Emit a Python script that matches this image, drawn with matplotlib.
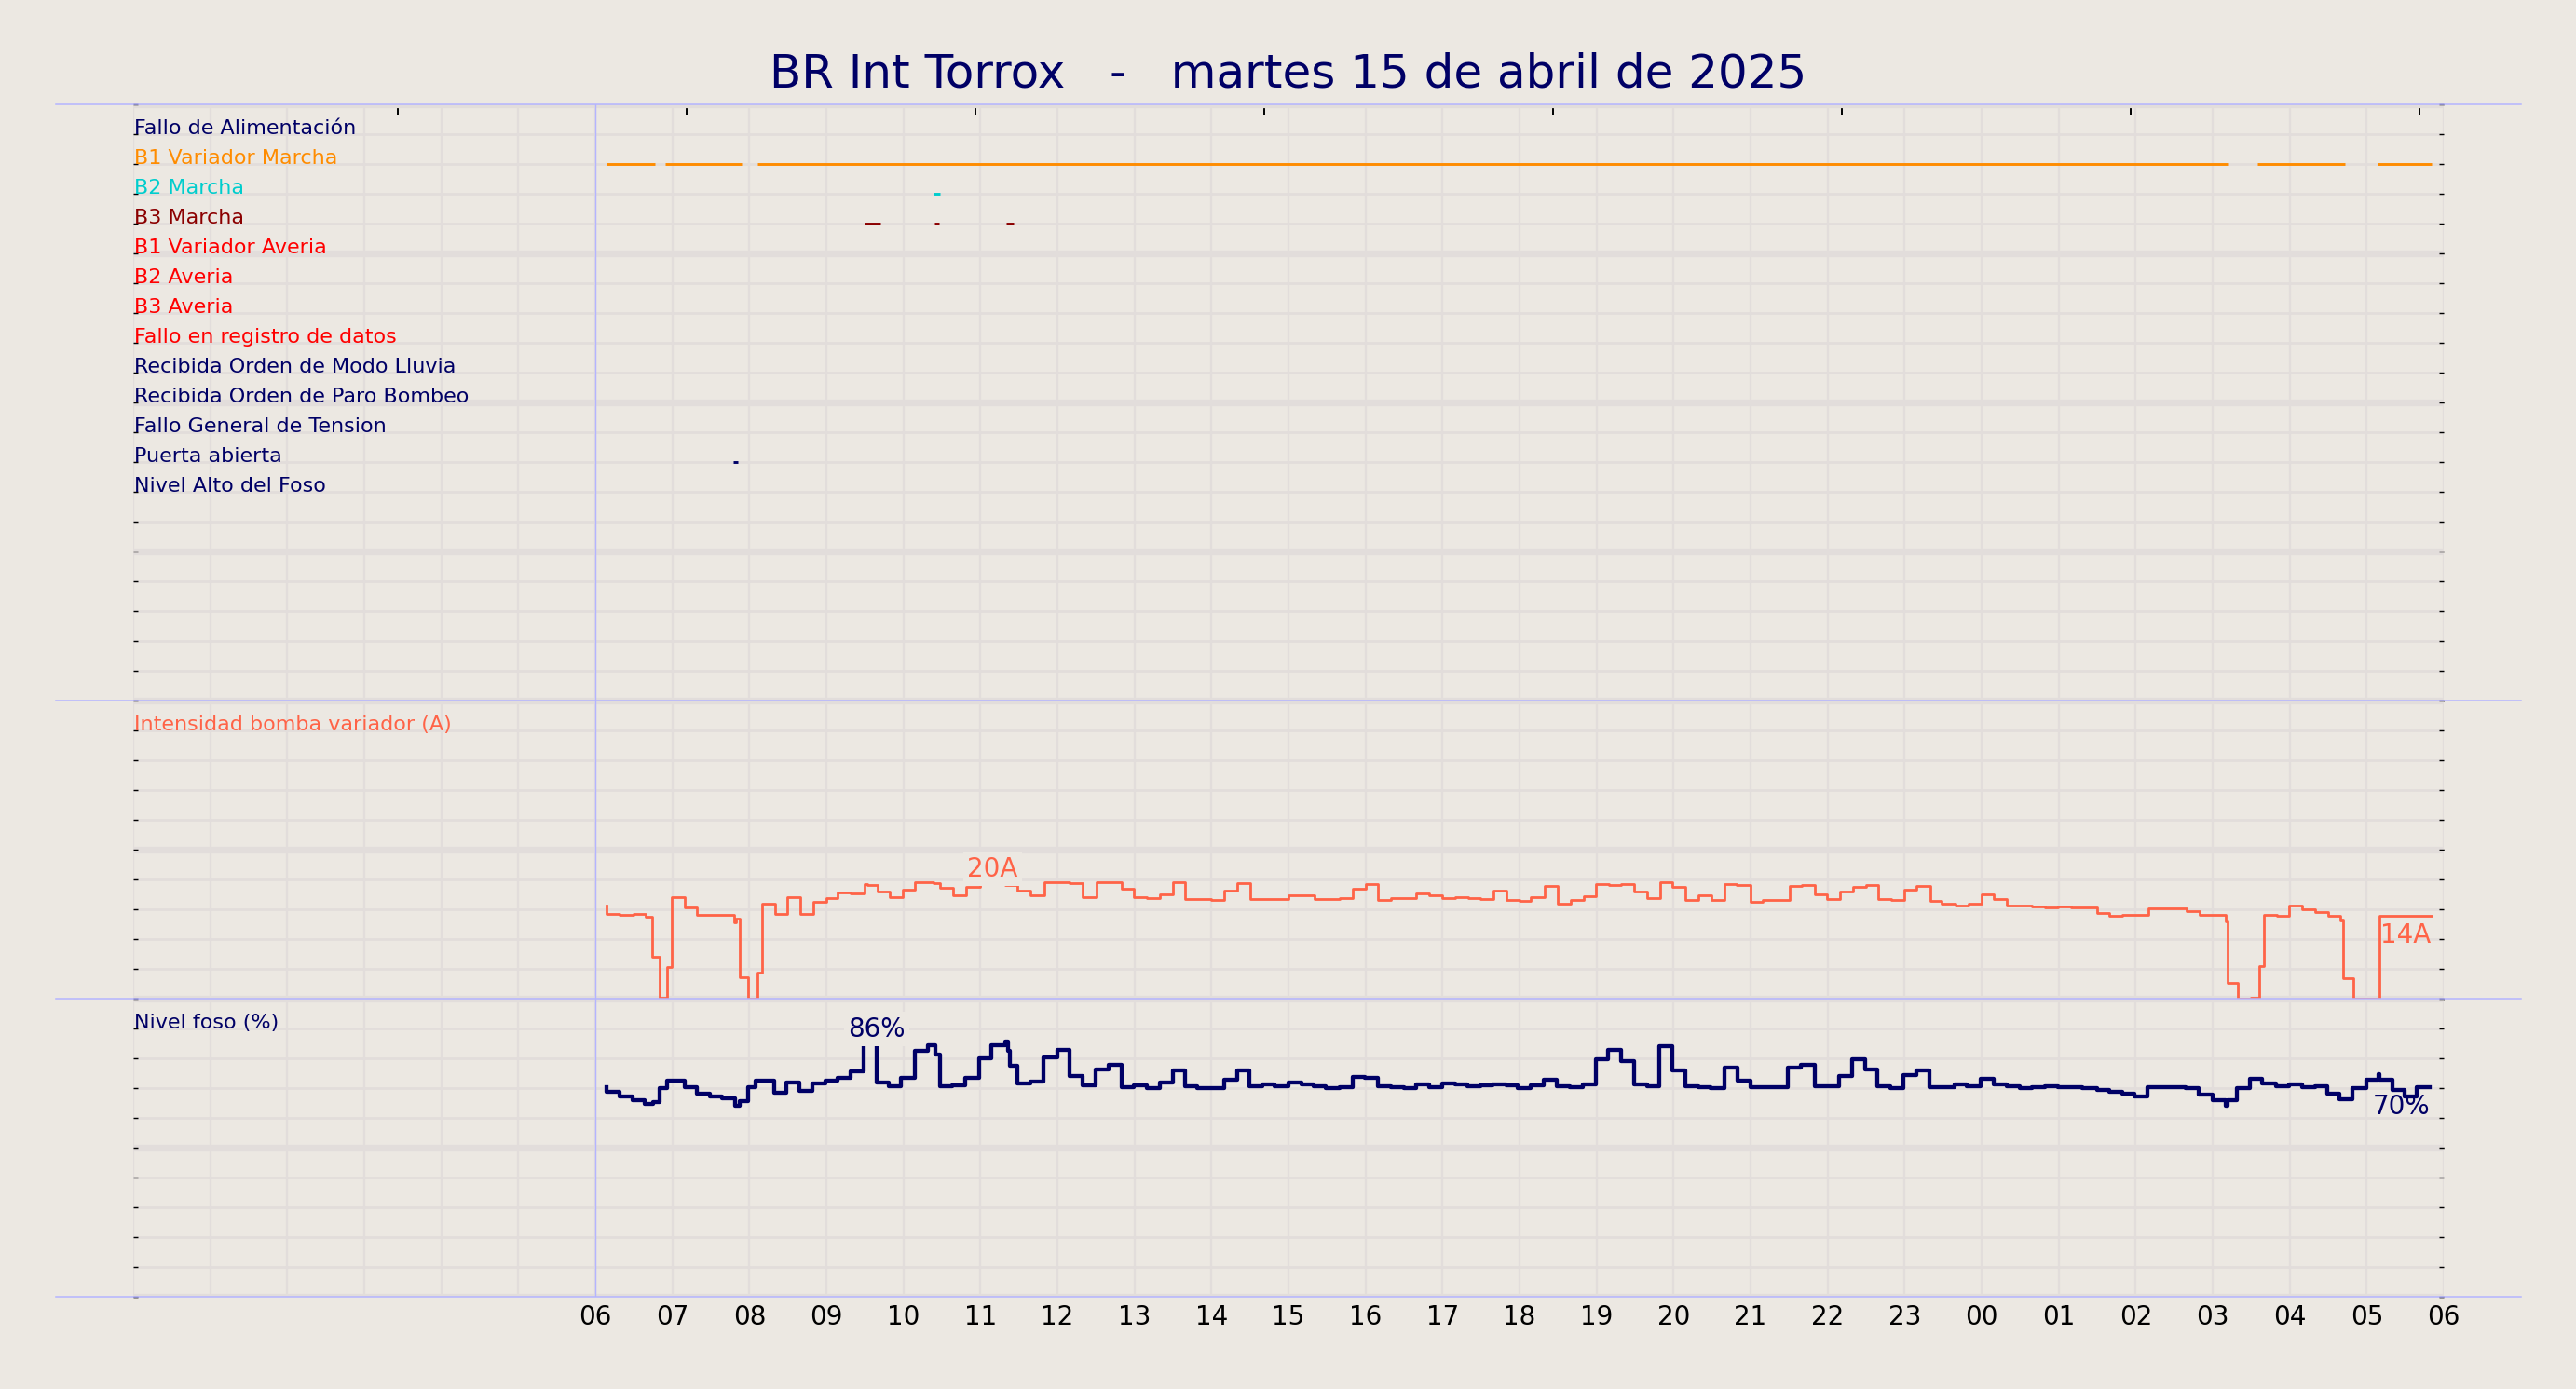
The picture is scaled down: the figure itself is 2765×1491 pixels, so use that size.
import matplotlib
matplotlib.use("Agg")
import matplotlib.pyplot as plt
from matplotlib.lines import Line2D
from matplotlib.ticker import MultipleLocator, FixedLocator
import matplotlib.transforms as mtransforms

# ---- data (hours from 00:00 of the 15th; 30 = 06:00 of the 16th) ----
title = "BR Int Torrox   -   martes 15 de abril de 2025"

signal_names = ["Fallo de Alimentación", "B1 Variador Marcha", "B2 Marcha", "B3 Marcha",
                "B1 Variador Averia", "B2 Averia", "B3 Averia", "Fallo en registro de datos",
                "Recibida Orden de Modo Lluvia", "Recibida Orden de Paro Bombeo",
                "Fallo General de Tension", "Puerta abierta", "Nivel Alto del Foso"]
signal_colors = ["#000066", "#ff8c00", "#00cdcd", "#8b0000", "#ff0000", "#ff0000", "#ff0000",
                 "#ff0000", "#000066", "#000066", "#000066", "#000066", "#000066"]
# active intervals (start, end) per signal
signal_on = {
    "B1 Variador Marcha": [(6.14, 6.77), (6.91, 7.90), (8.10, 27.21), (27.58, 28.72), (29.14, 29.84)],
    "B2 Marcha": [(10.39, 10.48)],
    "B3 Marcha": [(9.50, 9.70), (10.40, 10.46), (11.33, 11.43)],
    "Puerta abierta": [(7.79, 7.85)],
}

cur_t = [6.149, 6.149, 6.310, 6.491, 6.652, 6.733, 6.833, 6.934, 6.986, 7.167, 7.324, 7.800, 7.832,
         7.880, 7.981, 8.101, 8.162, 8.335, 8.496, 8.665, 8.834, 8.995, 9.148, 9.317, 9.490, 9.531,
         9.671, 9.824, 9.986, 10.155, 10.396, 10.477, 10.646, 10.819, 10.992, 11.160, 11.322, 11.483,
         11.652, 11.833, 12.153, 12.331, 12.504, 12.839, 12.996, 13.161, 13.331, 13.500, 13.661,
         13.996, 14.169, 14.331, 14.500, 15.004, 15.335, 15.669, 15.839, 16.000, 16.165, 16.335,
         16.657, 16.831, 17.000, 17.161, 17.331, 17.492, 17.665, 17.835, 18.000, 18.149, 18.323,
         18.492, 18.665, 18.835, 18.996, 19.157, 19.319, 19.492, 19.653, 19.827, 19.988, 20.157,
         20.327, 20.488, 20.661, 20.823, 20.996, 21.157, 21.508, 21.669, 21.831, 21.992, 22.165,
         22.327, 22.496, 22.657, 22.827, 22.992, 23.153, 23.335, 23.484, 23.657, 23.827, 24.000,
         24.153, 24.327, 24.496, 24.657, 24.827, 24.988, 25.161, 25.504, 25.657, 25.827, 26.169,
         26.661, 26.835, 27.165, 27.190, 27.327, 27.500, 27.609, 27.661, 27.835, 27.996, 28.165,
         28.327, 28.496, 28.657, 28.698, 28.831, 29.165, 29.839]
cur_v = [15.6, 14.2, 14.06, 14.2, 13.75, 7.1, 0.2, 5.3, 17.0, 15.3, 14.06, 12.8, 13.5,
         3.6, 0.0, 4.3, 16.0, 14.2, 17.1, 14.2, 16.2, 16.9, 17.8, 17.6, 19.2, 19.0,
         18.0, 17.0, 18.3, 19.5, 19.3, 18.6, 17.4, 18.8, 19.8, 19.7, 19.1, 18.1,
         17.4, 19.5, 19.3, 17.1, 19.6, 18.5, 17.1, 16.9, 17.5, 19.5, 16.7,
         16.6, 18.1, 19.3, 16.7, 17.4, 16.7, 16.9, 18.5, 19.2, 16.5, 16.9,
         17.7, 17.4, 16.9, 17.0, 16.9, 16.7, 18.1, 16.5, 16.35, 17.0, 18.85,
         16.0, 16.5, 17.2, 19.2, 19.0, 19.2, 17.9, 16.9, 19.5, 18.7, 16.5,
         17.3, 16.5, 19.2, 19.0, 16.2, 16.5, 18.85, 19.0, 17.5, 16.7, 17.9,
         18.8, 19.0, 16.7, 16.5, 18.3, 18.85, 16.35, 15.9, 15.7, 15.9, 17.5,
         16.7, 15.7, 15.55, 15.4, 15.3, 15.5, 15.3, 14.3, 13.9, 14.06, 15.2,
         14.7, 14.06, 12.9, 2.66, 0.0, 0.2, 5.5, 14.06, 13.9, 15.7, 14.95,
         14.5, 13.9, 13.1, 3.4, 0.0, 13.9, 13.9]

lvl_t = [6.149, 6.149, 6.310, 6.483, 6.644, 6.753, 6.833, 6.926, 7.167, 7.324, 7.490, 7.647, 7.812,
         7.880, 7.981, 8.081, 8.323, 8.476, 8.645, 8.814, 8.987, 9.140, 9.309, 9.478, 9.651, 9.812,
         9.973, 10.147, 10.316, 10.416, 10.477, 10.638, 10.807, 10.980, 11.141, 11.322, 11.354,
         11.382, 11.475, 11.644, 11.813, 12.000, 12.161, 12.323, 12.492, 12.665, 12.839, 12.996,
         13.161, 13.331, 13.500, 13.653, 13.815, 14.169, 14.331, 14.492, 14.661, 14.823, 15.004,
         15.165, 15.327, 15.488, 15.669, 15.831, 15.992, 16.161, 16.335, 16.496, 16.657, 16.831,
         16.992, 17.161, 17.323, 17.492, 17.653, 17.827, 17.980, 18.141, 18.310, 18.484, 18.657,
         18.827, 18.988, 19.149, 19.319, 19.492, 19.653, 19.815, 19.988, 20.157, 20.319, 20.480,
         20.661, 20.831, 20.996, 21.488, 21.649, 21.831, 22.153, 22.315, 22.488, 22.649, 22.819,
         22.988, 23.149, 23.323, 23.645, 23.806, 23.990, 24.153, 24.327, 24.496, 24.657, 24.827,
         24.988, 25.310, 25.496, 25.657, 25.827, 25.988, 26.149, 26.653, 26.823, 26.996, 27.165,
         27.190, 27.319, 27.480, 27.641, 27.823, 27.996, 28.157, 28.327, 28.488, 28.649, 28.819,
         28.992, 29.153, 29.165, 29.335, 29.488, 29.649, 29.823]
lvl_v = [70.4, 68.6, 67.1, 65.8, 64.7, 65.4, 69.9, 72.5, 70.4, 68.1, 67.1, 66.5, 64.2,
         65.5, 70.4, 72.5, 68.3, 71.8, 69.2, 71.5, 72.5, 73.5, 75.6, 86.0, 71.8, 70.7,
         73.5, 82.4, 84.3, 81.4, 70.6, 70.9, 73.5, 80.0, 84.3, 85.7, 82.4,
         77.4, 71.5, 72.1, 80.3, 82.7, 74.1, 70.9, 76.4, 77.7, 70.4, 70.9,
         70.1, 71.8, 75.8, 70.6, 70.1, 72.7, 75.8, 70.7, 71.1, 70.7, 71.8,
         71.1, 70.7, 70.1, 70.4, 73.9, 73.5, 70.7, 70.4, 70.1, 71.1, 70.4,
         71.5, 71.1, 70.7, 70.9, 71.4, 70.9, 70.1, 70.9, 72.8, 70.7, 70.3,
         71.25, 79.6, 82.9, 79.1, 71.25, 70.7, 84.0, 75.9, 70.7, 70.3, 70.0,
         77.0, 72.5, 70.4, 77.0, 77.7, 70.7, 74.1, 79.8, 76.4, 70.7, 70.0,
         74.4, 75.8, 70.4, 71.1, 70.7, 73.0, 71.1, 70.7, 70.1, 70.4, 70.7,
         70.4, 70.1, 69.4, 68.9, 68.1, 67.3, 70.4, 70.1, 67.8, 66.0, 64.2,
         66.0, 70.1, 73.0, 71.5, 70.7, 71.1, 70.4, 70.7, 68.1, 66.25, 70.1,
         72.8, 74.6, 72.8, 69.4, 67.3, 70.4, 70.4]

hour_ticks = list(range(6, 31))
hour_labels = ["%02d" % (h % 24) for h in hour_ticks]
top_ticks = [3.435, 7.185, 10.935, 14.685, 18.435, 22.185, 25.935, 29.685]

# ---- style ----
BG = "#ece8e2"
GRID = "#e2dddb"
BLUE = "#b4b4ff"
NAVY = "#000066"
TOMATO = "#ff6347"

W, H = 2765, 1491
fig = plt.figure(figsize=(W / 200, H / 200), dpi=200, facecolor=BG)


def add_ax(top_px, bot_px):
    return fig.add_axes([143 / W, 1 - bot_px / H, 2480 / W, (bot_px - top_px) / H], facecolor=BG)


def style(ax, unit):
    ax.set_xlim(0, 30)
    for s in ax.spines.values():
        s.set_visible(False)
    ax.xaxis.set_minor_locator(MultipleLocator(1))
    ax.xaxis.remove_overlapping_locs = False
    ax.yaxis.set_minor_locator(MultipleLocator(unit))
    ax.yaxis.set_major_locator(MultipleLocator(5 * unit))
    ax.yaxis.remove_overlapping_locs = False
    ax.grid(True, which="minor", axis="x", color=GRID, lw=0.85, zorder=0)
    ax.grid(True, which="minor", axis="y", color=GRID, lw=1.0, zorder=0)
    ax.grid(True, which="major", axis="y", color=GRID, lw=2.6, zorder=0)
    ax.tick_params(axis="y", which="both", left=True, right=True, direction="in",
                   length=1.8, width=0.5, labelleft=False, labelright=False)
    ax.tick_params(axis="x", which="minor", length=0)
    ax.axvline(6, color=BLUE, lw=0.5, zorder=1)
    ax.set_axisbelow(True)


ax1 = add_ax(112, 752)
ax2 = add_ax(752, 1072)
ax3 = add_ax(1072, 1392)

style(ax1, 1)
ax1.set_ylim(20, 0)
style(ax2, 5)
ax2.set_ylim(0, 50)
style(ax3, 10)
ax3.set_ylim(0, 100)

ax1.xaxis.set_major_locator(FixedLocator(top_ticks))
ax1.tick_params(axis="x", which="major", top=True, bottom=False, direction="in",
                length=3.9, width=0.7, labeltop=False, labelbottom=False)
ax2.set_xticks([])
ax3.set_xticks(hour_ticks)
ax3.set_xticklabels(hour_labels)
ax3.tick_params(axis="x", which="major", length=0, pad=2.8, labelsize=10, labelcolor="black")

# signal rows
lab_tr = mtransforms.blended_transform_factory(ax1.transAxes, ax1.transData)
for i, (name, col) in enumerate(zip(signal_names, signal_colors)):
    row = i + 1
    ax1.text(0.0005, row, name, transform=lab_tr, ha="left", va="baseline",
             fontsize=8.0, color=col)
    for a, b in signal_on.get(name, []):
        ax1.hlines(row, a, b, color=col, lw=1.05, zorder=3)

# intensity
ax2.plot(cur_t, cur_v, drawstyle="steps-post", color=TOMATO, lw=1.0, zorder=3)
tr2 = mtransforms.blended_transform_factory(ax2.transAxes, ax2.transData)
ax2.text(0.0005, 45, "Intensidad bomba variador (A)", transform=tr2, ha="left",
         va="baseline", fontsize=8.0, color=TOMATO)

# level
ax3.plot(lvl_t, lvl_v, drawstyle="steps-post", color=NAVY, lw=1.55, zorder=3)
tr3 = mtransforms.blended_transform_factory(ax3.transAxes, ax3.transData)
ax3.text(0.0005, 90, "Nivel foso (%)", transform=tr3, ha="left",
         va="baseline", fontsize=8.0, color=NAVY)


def peak_and_last(ax, t, v, unit, col):
    # peak label sits at the sample after the maximum, last value at the right end
    i = max(range(len(v)), key=lambda k: v[k])
    ax.annotate("%.0f%s" % (v[i], unit), (t[i + 1], v[i]), xytext=(0, 1.5), textcoords="offset points",
                ha="center", va="baseline", fontsize=10, color=col, zorder=5,
                bbox=dict(facecolor=BG, edgecolor="none", pad=1.5))
    ax.annotate("%.0f%s" % (v[-1], unit), (t[-1], v[-1]), xytext=(0, -2.5), textcoords="offset points",
                ha="right", va="top", fontsize=10, color=col, zorder=5)


peak_and_last(ax2, cur_t, cur_v, "A", TOMATO)
peak_and_last(ax3, lvl_t, lvl_v, "%", NAVY)

# separators
for y in (112, 752, 1072, 1392):
    fig.add_artist(Line2D([60 / W, 2706 / W], [1 - y / H, 1 - y / H], transform=fig.transFigure,
                          color=BLUE, lw=0.55, zorder=4))

fig.text(0.5, 1 - 79 / H, title, ha="center", va="center", fontsize=18, color=NAVY)

fig.savefig("out.png", dpi=200, facecolor=BG)
